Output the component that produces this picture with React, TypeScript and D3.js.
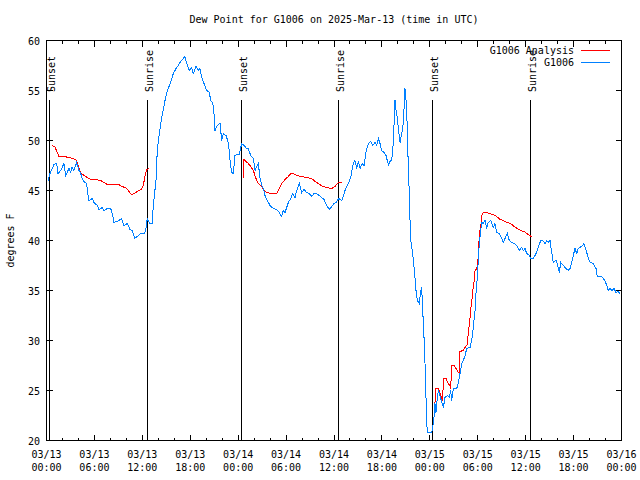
import React from "react";
import * as d3 from "d3";

// Hours since 2025-03-13 00:00 UTC and dew point (°F) for the observed station G1006
const obsHours = [
  0.19, 0.44, 0.94, 1.28, 1.44, 1.78, 2.19, 2.40, 2.82, 3.03, 3.19, 3.44, 3.78, 4.07, 4.28, 4.48, 4.78, 5.03, 5.20, 5.32,
  5.74, 5.95, 6.36, 6.57, 6.99, 7.20, 7.61, 8.04, 8.24, 8.45, 9.08, 9.37, 9.70, 10.12, 10.46, 10.74, 11.04, 11.37, 11.80, 12.21,
  12.42, 12.62, 12.96, 13.25, 13.37, 13.71, 13.87, 14.12, 14.43, 14.84, 15.13, 15.55, 15.88, 16.22, 16.50, 16.80, 17.13, 17.34, 17.56, 17.88,
  18.18, 18.38, 18.72, 19.01, 19.22, 19.43, 19.72, 20.06, 20.39, 20.56, 20.81, 20.97, 21.10, 21.39, 21.73, 21.94, 22.14, 22.48, 22.69, 22.89,
  22.98, 23.19, 23.39, 23.60, 23.82, 24.14, 24.44, 24.73, 25.07, 25.27, 25.57, 25.90, 26.11, 26.52, 26.73, 26.95, 27.15, 27.36, 27.65, 27.99,
  28.40, 28.83, 29.15, 29.45, 29.65, 29.87, 30.28, 30.58, 30.83, 31.12, 31.33, 31.66, 31.96, 32.24, 32.58, 32.91, 33.21, 33.50, 33.83, 34.16,
  34.46, 34.75, 35.09, 35.41, 35.71, 36.00, 36.25, 36.59, 36.97, 37.38, 37.79, 38.09, 38.42, 38.63, 38.84, 39.04, 39.26, 39.54, 39.76, 40.01,
  40.30, 40.60, 40.85, 41.14, 41.35, 41.55, 41.76, 41.97, 42.26, 42.51, 42.67, 42.85, 42.93, 43.23, 43.43, 43.64, 43.77, 43.93, 44.05, 44.27,
  44.48, 44.68, 44.89, 45.02, 45.18, 45.30, 45.43, 45.49, 45.61, 45.86, 46.14, 46.27, 46.43, 46.68, 46.86, 46.98, 47.11, 47.27, 47.43, 47.52,
  47.61, 47.68, 48.23, 48.36, 48.52, 48.64, 48.77, 48.94, 49.06, 49.19, 49.36, 49.52, 49.69, 49.90, 50.19, 50.44, 50.61, 50.74, 50.94, 51.37,
  51.57, 51.78, 51.99, 52.19, 52.41, 52.62, 53.03, 53.24, 53.44, 53.66, 53.78, 53.94, 54.07, 54.19, 54.37, 54.50, 54.70, 54.91, 55.12, 55.32,
  55.62, 55.95, 56.16, 56.37, 56.70, 57.00, 57.20, 57.41, 57.70, 57.95, 58.25, 58.54, 58.88, 59.20, 59.50, 59.71, 59.92, 60.13, 60.46, 60.63,
  60.96, 61.30, 61.58, 61.88, 62.13, 62.42, 62.63, 62.83, 63.05, 63.26, 63.46, 63.80, 63.96, 64.21, 64.39, 64.71, 65.05, 65.34, 65.55, 65.76,
  65.96, 66.18, 66.39, 66.59, 66.80, 67.14, 67.30, 67.56, 67.84, 68.06, 68.47, 68.81, 68.97, 69.52, 69.72, 69.93, 70.15, 70.35, 70.56, 70.81,
  71.06, 71.31, 71.60, 71.81,
];
const obsDew = [
  46.0, 46.7, 47.6, 47.7, 46.7, 47.0, 47.7, 46.5, 47.2, 46.8, 47.3, 47.0, 47.8, 47.0, 46.7, 46.2, 45.8, 45.7, 44.5, 44.0,
  44.2, 43.8, 43.5, 43.1, 43.3, 43.0, 43.2, 43.2, 42.7, 41.8, 42.0, 42.2, 41.5, 41.7, 41.1, 41.0, 40.2, 40.4, 40.7, 40.7,
  41.0, 42.2, 41.7, 41.7, 43.5, 46.0, 49.0, 50.7, 52.3, 54.0, 55.0, 55.8, 56.7, 57.2, 57.5, 57.9, 58.2, 58.4, 57.7, 57.0,
  57.3, 56.7, 57.4, 57.0, 57.2, 56.3, 55.7, 55.0, 54.8, 54.0, 53.8, 52.7, 51.0, 51.5, 51.7, 50.0, 50.7, 50.5, 50.0, 49.0,
  48.0, 46.8, 46.7, 48.5, 48.6, 48.6, 49.7, 49.5, 49.2, 49.2, 48.5, 48.2, 47.0, 47.7, 46.3, 45.5, 45.2, 44.5, 44.0, 43.5,
  43.2, 43.1, 42.8, 42.4, 43.0, 42.8, 43.8, 44.2, 44.7, 44.3, 45.0, 45.7, 44.8, 45.1, 44.8, 44.7, 44.4, 44.7, 44.7, 44.5,
  44.3, 44.1, 43.5, 43.1, 43.4, 43.7, 43.8, 44.2, 44.0, 45.0, 45.7, 46.3, 47.7, 48.0, 47.2, 47.9, 47.2, 47.7, 47.5, 48.9,
  49.7, 49.9, 49.5, 49.8, 49.5, 50.2, 49.7, 49.0, 48.8, 48.5, 48.0, 47.5, 47.9, 48.0, 49.8, 54.0, 53.0, 52.3, 51.2, 49.8,
  50.7, 51.7, 55.2, 54.0, 51.3, 47.3, 44.7, 42.7, 40.0, 38.7, 36.3, 35.0, 34.0, 33.7, 35.0, 35.3, 33.0, 30.3, 27.0, 24.3,
  22.0, 20.8, 20.8, 21.3, 22.3, 23.7, 22.8, 24.3, 25.0, 24.7, 24.2, 23.8, 23.3, 24.3, 24.5, 24.3, 25.0, 24.0, 25.2, 25.2,
  25.8, 26.7, 27.7, 28.0, 28.5, 29.2, 29.3, 30.0, 31.3, 33.0, 34.7, 36.3, 38.0, 39.7, 41.0, 41.8, 41.7, 42.0, 41.3, 41.8,
  42.0, 41.3, 41.7, 40.8, 40.7, 40.2, 39.8, 40.2, 40.7, 40.0, 39.8, 39.7, 39.5, 39.0, 39.3, 39.0, 39.2, 38.7, 38.5, 38.2,
  38.2, 38.7, 39.3, 40.0, 40.0, 39.7, 40.0, 39.8, 40.0, 38.8, 37.8, 38.0, 37.7, 36.8, 37.8, 37.5, 37.2, 37.0, 37.2, 37.8,
  38.5, 39.2, 38.7, 39.2, 39.3, 39.5, 39.7, 39.0, 38.3, 37.8, 37.7, 37.2, 36.4, 36.4, 36.2, 36.0, 35.5, 35.0, 35.2, 35.0,
  35.2, 34.8, 34.9, 34.7,
];

// Analysis series: three daytime/night segments (NaN marks a gap)
const anaHours = [
  0.63, 1.03, 1.57, 2.19, 2.82, 3.23, 3.66, 3.86, 4.07, 4.36, 4.70, 5.11, 5.53, 6.16, 6.79, 7.20, 7.61, 8.45, 9.08, 9.37,
  9.92, 10.33, 10.62, 10.96, 11.37, 11.87, 12.12, 12.30, 12.55, 12.84,
  NaN,
  24.64, 24.73, 24.98, 25.27, 25.57, 25.90, 26.23, 26.52, 26.95, 27.15, 27.57, 28.20, 28.83, 29.15, 29.45, 29.87, 30.28, 30.58, 30.90, 31.33,
  31.96, 32.58, 33.21, 33.62, 34.04, 34.59, 35.09, 35.71, 36.13, 36.41, 36.66, 36.97,
  NaN,
  48.64, 48.77, 49.06, 49.27, 49.49, 49.61, 49.69, 50.03, 50.31, 50.53, 50.61, 50.74, 51.03, 51.28, 51.57, 51.69, 51.75, 52.19, 52.41, 52.70,
  52.82, 53.03, 53.12, 53.24, 53.37, 53.53, 53.66, 53.87, 53.99, 54.12, 54.19, 54.37, 54.50, 54.70, 55.12, 55.45, 55.95, 56.37, 56.79, 57.20,
  57.70, 58.13, 58.54, 58.95, 59.38, 59.79, 60.13, 60.46, 60.76,
];
const anaDew = [
  49.5, 49.4, 48.4, 48.4, 48.3, 48.2, 48.1, 47.8, 47.2, 46.7, 46.5, 46.3, 46.1, 46.1, 46.0, 45.8, 45.6, 45.6, 45.6, 45.4,
  45.3, 44.9, 44.6, 44.7, 44.9, 45.1, 45.5, 46.3, 47.1, 47.2,
  NaN,
  46.3, 48.1, 47.9, 47.7, 47.4, 47.0, 46.2, 45.7, 45.4, 45.1, 44.8, 44.7, 44.7, 45.2, 45.7, 46.1, 46.4, 46.7, 46.7, 46.5,
  46.4, 46.3, 46.2, 45.9, 45.7, 45.4, 45.3, 45.2, 45.4, 45.7, 45.8, 45.8,
  NaN,
  23.7, 25.2, 25.2, 24.8, 24.2, 24.0, 26.2, 26.2, 25.7, 25.5, 25.2, 27.5, 27.5, 27.2, 26.8, 26.7, 28.9, 29.0, 29.3, 29.6,
  30.8, 32.2, 33.2, 33.8, 35.0, 35.8, 37.0, 37.2, 37.7, 39.0, 40.7, 41.3, 42.5, 42.8, 42.8, 42.7, 42.6, 42.4, 42.1, 42.0,
  41.8, 41.7, 41.4, 41.2, 41.0, 40.9, 40.7, 40.5, 40.4,
];

const sunLabels = ["Sunset", "Sunrise", "Sunset", "Sunrise", "Sunset", "Sunrise"];
const sunHours = [0.35, 12.62, 24.32, 36.55, 48.33, 60.55];

const xMajorHours = [0, 6, 12, 18, 24, 30, 36, 42, 48, 54, 60, 66, 72];
const xTickDates = ["03/13", "03/13", "03/13", "03/13", "03/14", "03/14", "03/14", "03/14", "03/15", "03/15", "03/15", "03/15", "03/16"];
const xTickTimes = ["00:00", "06:00", "12:00", "18:00", "00:00", "06:00", "12:00", "18:00", "00:00", "06:00", "12:00", "18:00", "00:00"];
const yTicks = [20, 25, 30, 35, 40, 45, 50, 55, 60];

const seriesNames = ["G1006 Analysis", "G1006"];
const seriesColors = ["#ff0000", "#0080ff"];

const FONT = "'DejaVu Sans Mono', monospace";

export default function App() {
  const W = 640;
  const H = 480;
  const left = 46.5, right = 621.5, top = 40.5, bottom = 440.5;
  const x = d3.scaleLinear().domain([0, 72]).range([left, right]);
  const y = d3.scaleLinear().domain([20, 60]).range([bottom, top]);

  const minorHours = d3.range(0, 73, 2).filter((h) => h % 6 !== 0);

  const obsPts = obsHours.map((h, i) => [h, obsDew[i]] as [number, number]);
  const anaPts = anaHours.map((h, i) => [h, anaDew[i]] as [number, number]);
  const line = d3
    .line<[number, number]>()
    .defined((d) => !isNaN(d[0]) && !isNaN(d[1]))
    .x((d) => x(d[0]))
    .y((d) => y(d[1]));

  const majorLen = 6;
  const minorLen = 3;

  return (
    <svg
      width={W}
      height={H}
      style={{ position: "absolute", left: 0, top: 0, background: "#fff" }}
      fontFamily={FONT}
      fontSize={10}
    >
      <rect x={0} y={0} width={W} height={H} fill="#fff" />
      <text x={(left + right) / 2} y={23} textAnchor="middle" fill="#000">
        Dew Point for G1006 on 2025-Mar-13 (time in UTC)
      </text>

      {/* y ticks and labels */}
      {yTicks.map((v) => (
        <g key={"y" + v}>
          <line x1={left} x2={left + majorLen} y1={Math.round(y(v)) + 0.5 - 1} y2={Math.round(y(v)) + 0.5 - 1} stroke="#000" shapeRendering="crispEdges" />
          <line x1={right} x2={right - majorLen} y1={Math.round(y(v)) + 0.5 - 1} y2={Math.round(y(v)) + 0.5 - 1} stroke="#000" shapeRendering="crispEdges" />
          <text x={40} y={y(v) + 4} textAnchor="end" fill="#000">
            {v}
          </text>
        </g>
      ))}

      {/* x ticks */}
      {xMajorHours.map((h, i) => (
        <g key={"x" + h}>
          <line x1={x(h)} x2={x(h)} y1={bottom} y2={bottom - majorLen} stroke="#000" shapeRendering="crispEdges" />
          <line x1={x(h)} x2={x(h)} y1={top} y2={top + majorLen} stroke="#000" shapeRendering="crispEdges" />
          <text x={x(h)} y={458} textAnchor="middle" fill="#000">
            {xTickDates[i]}
          </text>
          <text x={x(h)} y={471} textAnchor="middle" fill="#000">
            {xTickTimes[i]}
          </text>
        </g>
      ))}
      {minorHours.map((h) => (
        <g key={"m" + h}>
          <line x1={x(h)} x2={x(h)} y1={bottom} y2={bottom - minorLen} stroke="#000" shapeRendering="crispEdges" />
          <line x1={x(h)} x2={x(h)} y1={top} y2={top + minorLen} stroke="#000" shapeRendering="crispEdges" />
        </g>
      ))}

      <text transform={`translate(14, ${(top + bottom) / 2}) rotate(-90)`} textAnchor="middle" fill="#000">
        degrees F
      </text>

      {/* sunrise / sunset markers */}
      {sunHours.map((h, i) => {
        const px = Math.round(x(h)) + 0.5;
        return (
          <g key={"s" + i}>
            <line x1={px} x2={px} y1={99.5} y2={bottom} stroke="#000" shapeRendering="crispEdges" />
            <text transform={`translate(${px + 5}, 92) rotate(-90)`} textAnchor="start" fill="#000">
              {sunLabels[i]}
            </text>
          </g>
        );
      })}

      {/* data */}
      <path d={line(anaPts) || ""} fill="none" stroke={seriesColors[0]} strokeWidth={1} shapeRendering="crispEdges" />
      <path d={line(obsPts) || ""} fill="none" stroke={seriesColors[1]} strokeWidth={1} shapeRendering="crispEdges" />

      {/* legend */}
      {seriesNames.map((n, i) => (
        <g key={"l" + i}>
          <text x={574} y={54 + i * 12} textAnchor="end" fill="#000">
            {n}
          </text>
          <line x1={581} x2={610} y1={50.5 + i * 12} y2={50.5 + i * 12} stroke={seriesColors[i]} shapeRendering="crispEdges" />
        </g>
      ))}

      <rect x={left} y={top} width={right - left} height={bottom - top} fill="none" stroke="#000" shapeRendering="crispEdges" />
    </svg>
  );
}
